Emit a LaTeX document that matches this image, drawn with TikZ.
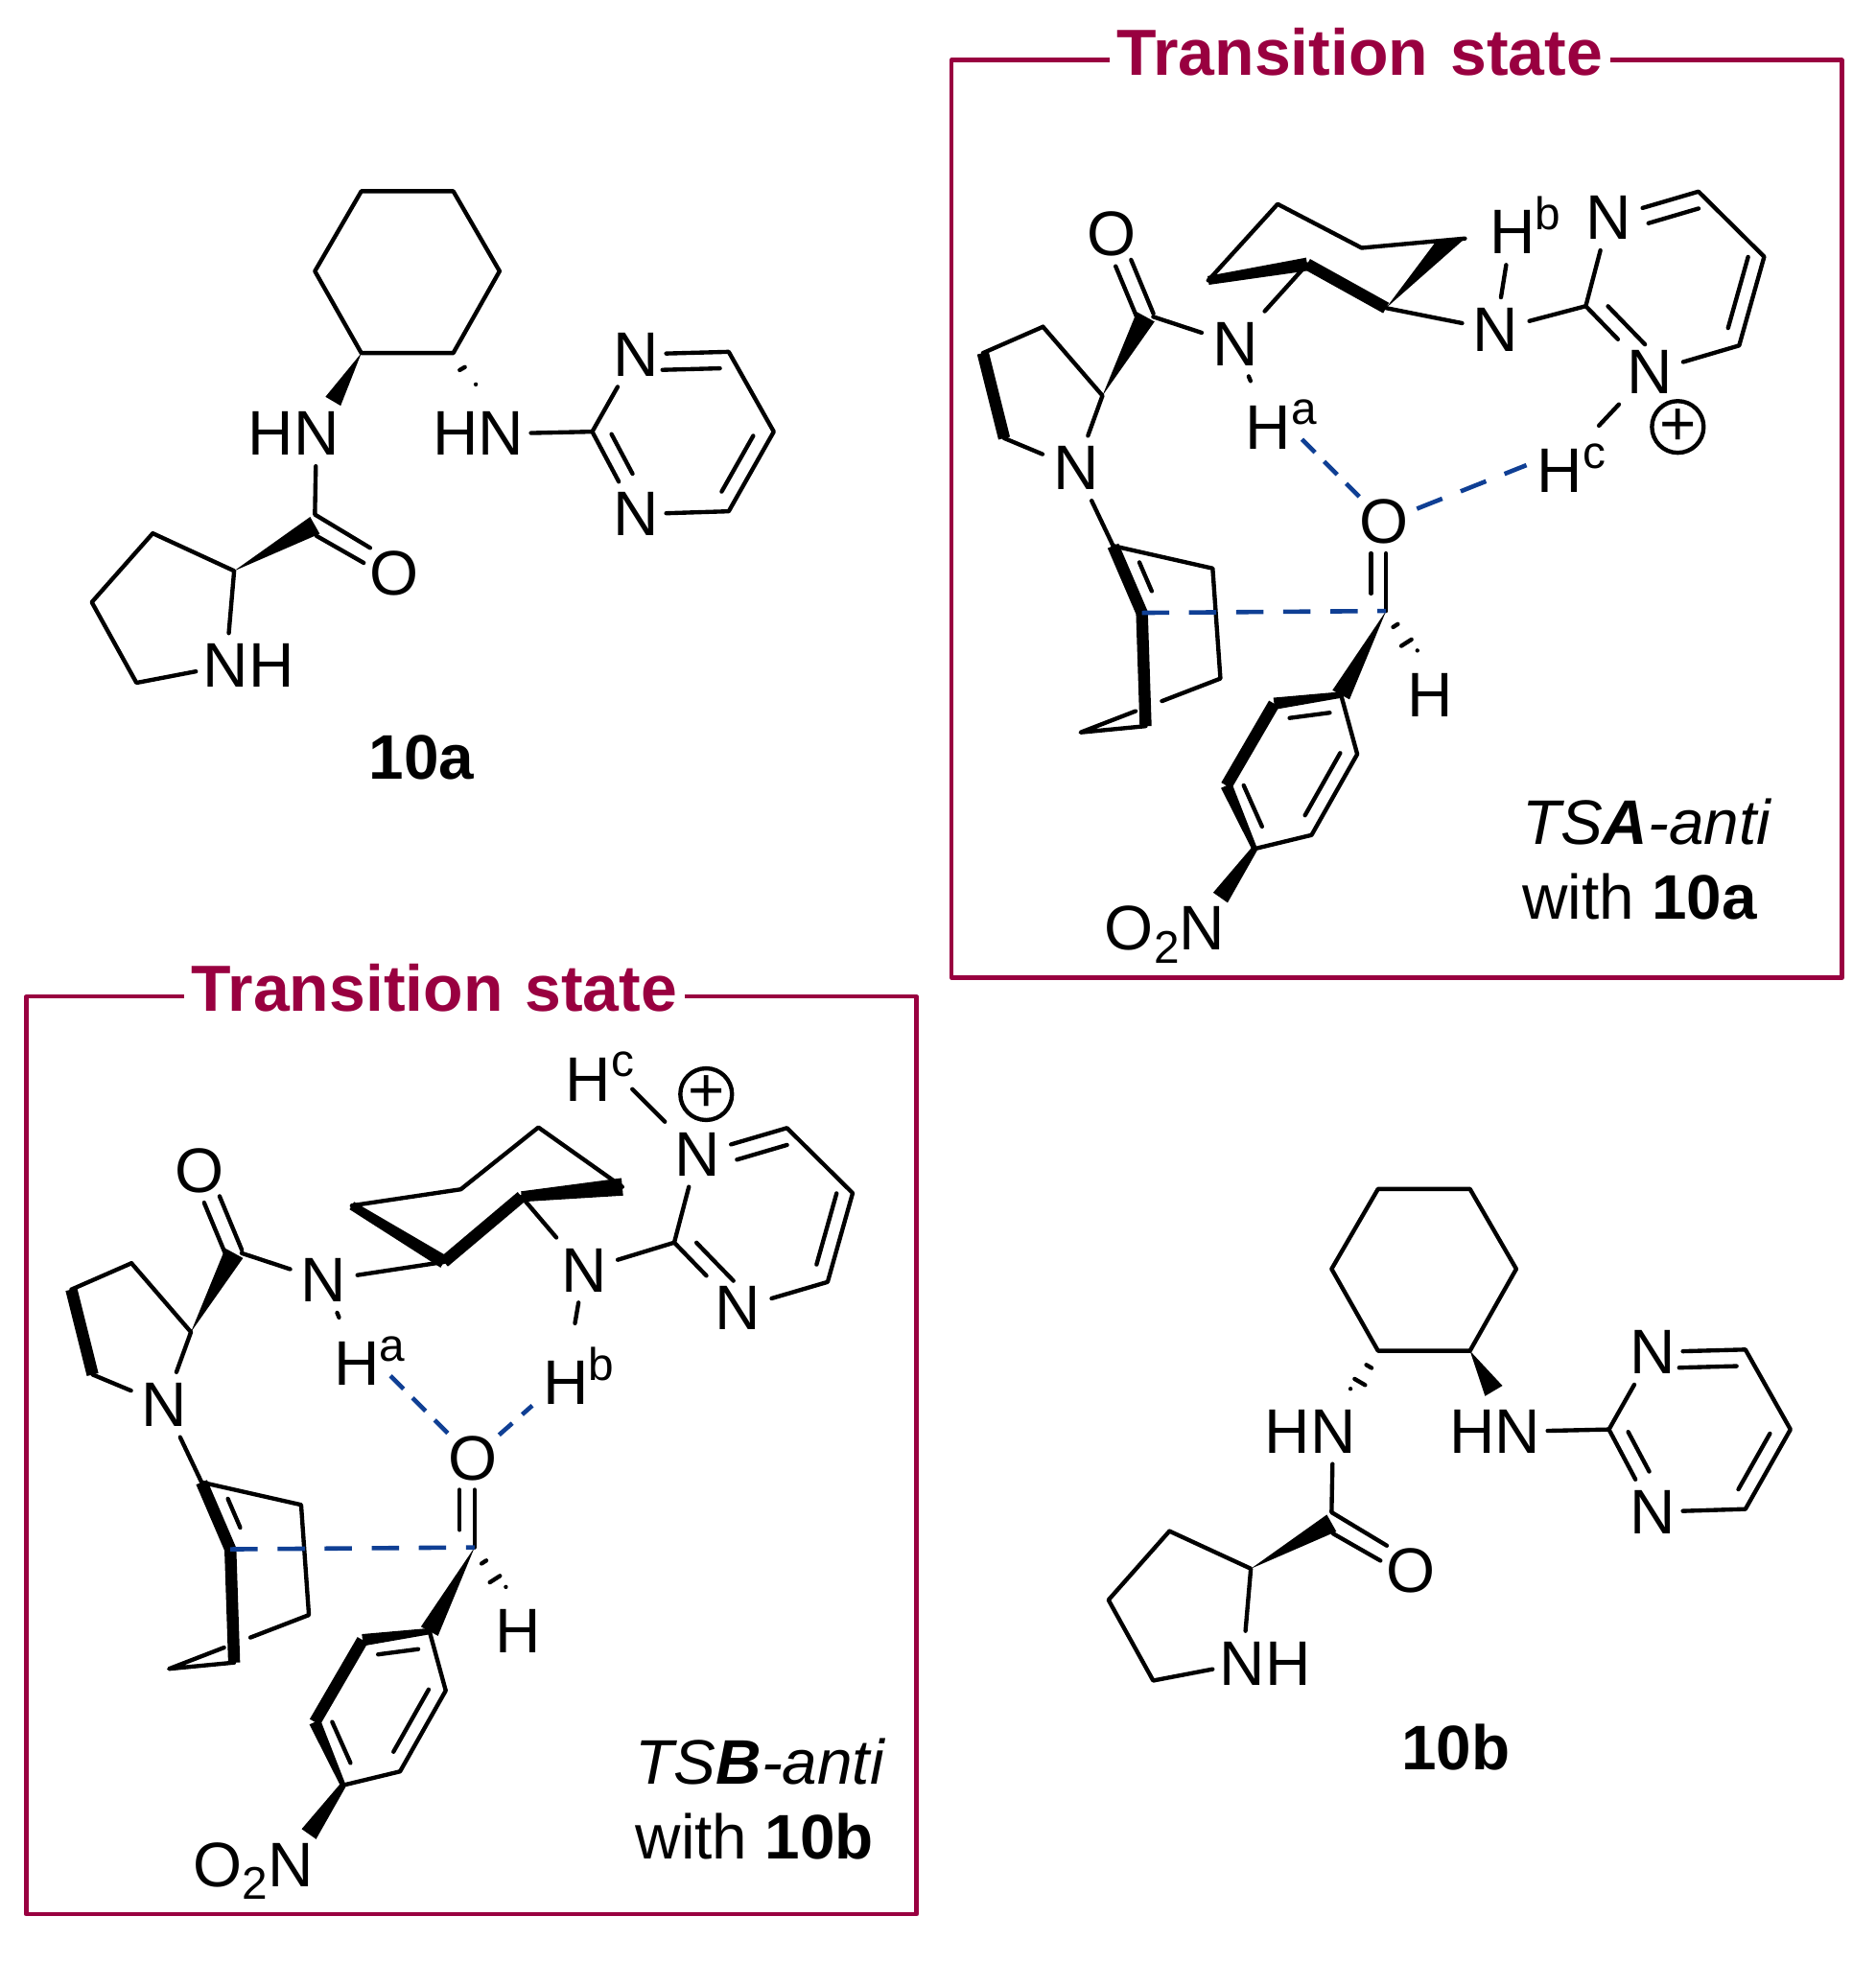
\documentclass[tikz,border=0pt]{standalone}
\usepackage{fontspec}
\setmainfont{Liberation Sans}
\usetikzlibrary{calc}
\definecolor{tsred}{HTML}{990040}
\definecolor{hblue}{HTML}{0F3F94}
\newcommand{\atomsize}{\fontsize{14.3}{17}\selectfont}
\newcommand{\supsize}{\fontsize{10.4}{12}\selectfont}
\newcommand{\hsup}[1]{H\rlap{\raisebox{5.5pt}{\supsize #1}}}
\newcommand{\bondwedge}[3]{\fill[line join=round] (#1) -- ($(#2)!#3!90:(#1)$) -- ($(#2)!#3!-90:(#1)$) -- cycle;}
\newcommand{\bondtaper}[4]{\fill[line join=round] ($(#1)!#3!90:(#2)$) -- ($(#1)!#3!-90:(#2)$) -- ($(#2)!#4!90:(#1)$) -- ($(#2)!#4!-90:(#1)$) -- cycle;}
\newcommand{\bondhash}[4]{\foreach \pos in {#4}{\draw ($(#1)!\pos!(#2)!#3*\pos!90:(#2)$) -- ($(#1)!\pos!(#2)!#3*\pos!-90:(#2)$);}}
\newcommand{\bondinner}[5]{\draw ($(#1)!#4!(#2)!#3!90:(#2)$) -- ($(#1)!#5!(#2)!#3!90:(#2)$);}
\tikzset{
  atom/.style={inner xsep=2pt, inner ysep=2pt, font=\atomsize},
  catatom/.style={inner xsep=1.2pt, inner ysep=2pt, font=\atomsize},
  oxygen/.style={circle, inner sep=0pt, font=\atomsize},
  boldbond/.style={line width=2.7pt, line cap=butt, line join=round},
  hbond/.style={color=hblue, line width=1pt, dash pattern=on 4.2pt off 2.9pt, line cap=butt},
  hlong/.style={color=hblue, line width=1pt, dash pattern=on 6.2pt off 4.5pt, line cap=butt},
  tsbox/.style={color=tsred, line width=1pt, line cap=butt},
  tstitle/.style={fill=white, text=tsred, inner sep=1.7pt, font=\fontsize{14.8}{17}\selectfont\bfseries},
  tsnote/.style={anchor=west, align=left, inner sep=0pt, font=\atomsize},
  cmpd/.style={inner sep=0pt, font=\atomsize\bfseries},
  charge/.style={circle, draw, minimum size=10.8pt, inner sep=0pt},
  tscore/.pic={
    \coordinate (-c2) at (880.5,316);
    \coordinate (-c3) at (833,261);
    \coordinate (-c4) at (785,282);
    \coordinate (-c5) at (802,350);
    \coordinate (-c1) at (921,253);
    \coordinate (-c1m) at (915,253);
    \coordinate (-cho) at (1107,488);
    \coordinate (-o2a) at (1107,442);
    \coordinate (-o2b) at (1095,442);
    \coordinate (-o2c) at (1095,474);
    \coordinate (-ipso) at (1071,555);
    \coordinate (-a2) at (1017.6,562);
    \coordinate (-a3) at (979.5,627.5);
    \coordinate (-a4) at (1002,678);
    \coordinate (-a5) at (1047.5,667);
    \coordinate (-a6) at (1084,602.4);
    \coordinate (-nb) at (974.7,717);
    \coordinate (-e1) at (889,436);
    \coordinate (-e2) at (912,489.5);
    \coordinate (-e3) at (968.5,454);
    \coordinate (-e4) at (974.7,542);
    \coordinate (-e5) at (915,580);
    \coordinate (-e6) at (863,585);
    \coordinate (-e7) at (907,568);
    \coordinate (-e8) at (928,560);
    \coordinate (-hh) at (1132,527);
    \coordinate (-p2) at (1266.5,244.5);
    \coordinate (-p6) at (1356.5,153);
    \coordinate (-p5) at (1409,205);
    \coordinate (-p4) at (1389,276);
    \node[atom] (-n1) at (859.5,374) {N};
    \node[atom] (-o1) at (887.6,187) {O};
    \node[atom] (-n2) at (986.6,274.6) {N};
    \node[atom] (-ha) at (1013,339) {\hsup{a}};
    \node[oxygen] (-o2) at (1105.6,416.7) {O};
    \node[atom] (-h) at (1142,555) {H};
    \node[atom] (-n3) at (960,746.5) {\llap{O\raisebox{-3pt}{\supsize 2}}N};
    \node[atom] (-p1) at (1285,174) {N};
    \node[atom] (-p3) at (1317.4,297) {N};
    \draw (-c3) -- (-c2) -- (-n1) -- (-c5);
    \draw (-c3) -- (-c4);
    \draw[boldbond] (-c4) -- (-c5);
    \bondwedge{-c2}{-c1m}{2.3pt}
    \draw (-c1) -- (-n2);
    \draw[shorten >=2pt] (-n2) -- (-ha);
    \bondinner{-c1m}{-o1}{1.9pt}{0}{0.65}
    \bondinner{-c1m}{-o1}{-1.9pt}{0}{0.65}
    \draw (-n1) -- (-e1) -- (-e3) -- (-e4) -- (-e8);
    \draw[boldbond] (-e1) -- (-e2) -- (-e5);
    \bondinner{-e1}{-e2}{4pt}{0.35}{0.78}
    \draw (-e7) -- (-e6) -- (-e5);
    \draw (-cho) -- (-o2a);
    \draw (-o2c) -- (-o2b);
    \bondwedge{-cho}{-ipso}{2.2pt}
    \bondhash{-cho}{-hh}{2.1pt}{0.3,0.65,1}
    \bondtaper{-ipso}{-a2}{0.7pt}{1.35pt}
    \draw[boldbond] (-a2) -- (-a3);
    \bondtaper{-a4}{-a3}{0.6pt}{1.35pt}
    \draw (-ipso) -- (-a6) -- (-a5) -- (-a4);
    \bondinner{-ipso}{-a2}{3.7pt}{0.2}{0.8}
    \bondinner{-a6}{-a5}{-3.5pt}{0.08}{0.85}
    \bondinner{-a3}{-a4}{3.6pt}{0.1}{0.75}
    \bondtaper{-a4}{-nb}{0.7pt}{2pt}
    \draw (-p1) -- (-p2) -- (-p3) -- (-p4) -- (-p5) -- (-p6) -- (-p1);
    \bondinner{-p1}{-p6}{-3.7pt}{0.39}{0.95}
    \bondinner{-p5}{-p4}{-3.5pt}{0.05}{0.85}
    \bondinner{-p2}{-p3}{3.6pt}{0.17}{0.75}
    \draw[hbond] ([yshift=-3.4pt]-ha.east) -- (-o2);
    \draw[hlong] (-e2) -- (-cho);
  },
  catalyst/.pic={
    \coordinate (-r1) at (288.6,152.7);
    \coordinate (-r2) at (362,152.7);
    \coordinate (-r3) at (399,216.6);
    \coordinate (-r4) at (362,282);
    \coordinate (-r5) at (288.6,282);
    \coordinate (-r6) at (251.5,216.6);
    \coordinate (-c1) at (251.5,411);
    \coordinate (-c1m) at (251.5,419.6);
    \coordinate (-c2) at (187,456);
    \coordinate (-c3) at (122,426);
    \coordinate (-c4) at (73.3,481);
    \coordinate (-c5) at (109,545.4);
    \coordinate (-p2) at (473,344.8);
    \coordinate (-p6) at (582,281);
    \coordinate (-p5) at (618,344.8);
    \coordinate (-p4) at (582,408.4);
    \coordinate (-d1) at (295.6,437.6);
    \coordinate (-d2) at (252.7,428);
    \coordinate (-d3) at (290.5,449.6);
    \node[catatom] (-n1) at (252.7,346.4) {\llap{H}N};
    \node[catatom] (-n2) at (400,346.4) {\llap{H}N};
    \node[catatom] (-n3) at (180.5,531.7) {N\rlap{H}};
    \node[catatom] (-o) at (315,457.7) {O};
    \node[catatom] (-p1) at (508,283) {N};
    \node[catatom] (-p3) at (508,410.7) {N};
    \draw (-r1) -- (-r2) -- (-r3) -- (-r4) -- (-r5) -- (-r6) -- cycle;
    \draw (-n1) -- (-c1) -- (-d1);
    \draw (-d2) -- (-d3);
    \bondwedge{-c2}{-c1m}{2.2pt}
    \draw (-c3) -- (-c2) -- (-n3) -- (-c5) -- (-c4) -- (-c3);
    \draw (-n2) -- (-p2) -- (-p3) -- (-p4) -- (-p5) -- (-p6) -- (-p1) -- (-p2);
    \bondinner{-p1}{-p6}{-3.7pt}{0.28}{0.9}
    \bondinner{-p5}{-p4}{-3.6pt}{0.15}{0.85}
    \bondinner{-p2}{-p3}{3.6pt}{0.12}{0.6}
  }
}
\begin{document}
\begin{tikzpicture}[x=0.01cm, y=-0.01cm, line width=0.95pt, line cap=round, line join=round]
    \useasboundingbox (0,0) rectangle (1498,1568);
    \draw[tsbox] (760,48) rectangle (1471,781);
    \draw[tsbox] (21,796) rectangle (732,1529);
    \node[tstitle] (titlea) at (1086,41.5) {Transition\hspace{5pt}state};
    \node[tstitle] (titleb) at (347,789.5) {Transition\hspace{5pt}state};
    \pic (cata) at (0,0) {catalyst};
    \coordinate (catae) at (266,320.5);
    \coordinate (catah) at (380,313);
    \bondwedge{cata-r5}{catae}{2pt}
    \bondhash{cata-r4}{catah}{1.7pt}{0.4,1}
    \node[cmpd] (labela) at (336.5,605) {10a};
    \pic (catb) at (812,797) {catalyst};
    \coordinate (catbh) at (1078.6,1116.7);
    \coordinate (catbe) at (1193,1111);
    \bondhash{catb-r5}{catbh}{2.1pt}{0.33,0.66,1}
    \bondwedge{catb-r4}{catbe}{2.3pt}
    \node[cmpd] (labelb) at (1162.5,1396) {10b};
    \pic (a) at (0,0) {tscore};
    \coordinate (a-r1) at (965,224);
    \coordinate (a-r2) at (1044,211);
    \coordinate (a-r3) at (1107,246);
    \coordinate (a-r4) at (1170,190.5);
    \coordinate (a-r4a) at (1146,194);
    \coordinate (a-r5) at (1087.5,198);
    \coordinate (a-r6) at (1020.4,163);
    \coordinate (a-hce) at (1277,340);
    \node[atom] (a-n4) at (1194.6,263.5) {N};
    \node[atom] (a-hb) at (1208,180) {\hsup{b}};
    \node[atom] (a-hc) at (1246,374) {\hsup{c}};
    \node[charge] (a-plus) at (1340,341) {\atomsize +};
    \bondtaper{a-r1}{a-r2}{1pt}{1.5pt}
    \draw[boldbond] (a-r2) -- (a-r3);
    \fill (a-r3) -- (a-r4a) -- (a-r4) -- cycle;
    \draw (a-r1) -- (a-r6) -- (a-r5) -- (a-r4);
    \draw (a-n2) -- (a-r2);
    \draw (a-r3) -- (a-n4) -- (a-p2);
    \draw (a-n4) -- (a-hb);
    \draw (a-p3) -- (a-hce);
    \draw[hlong] (a-o2) -- ([yshift=0.7pt]a-hc.west);
    \node[tsnote] (notea) at (1214,686.5) {\textit{TS\textbf{A}-anti}\\with \textbf{10a}};
    \pic (b) at (-728,748) {tscore};
    \coordinate (b-r1) at (281,963);
    \coordinate (b-r2) at (354.6,1008);
    \coordinate (b-r3) at (416.5,955.8);
    \coordinate (b-r4) at (497,948);
    \coordinate (b-r5) at (430,900.5);
    \coordinate (b-r6) at (368,950);
    \coordinate (b-hce) at (505,870);
    \node[atom] (b-n4) at (466.5,1014.5) {N};
    \node[atom] (b-hb) at (452,1099) {\hsup{b}};
    \node[atom] (b-hc) at (470,860) {\hsup{c}};
    \node[charge] (b-plus) at (564,874) {\atomsize +};
    \bondtaper{b-r1}{b-r2}{1pt}{1.5pt}
    \draw[boldbond] (b-r2) -- (b-r3);
    \bondtaper{b-r3}{b-r4}{1.2pt}{2pt}
    \draw (b-r1) -- (b-r6) -- (b-r5) -- (b-r4);
    \draw (b-n2) -- (b-r2);
    \draw (b-r3) -- (b-n4) -- (b-p2);
    \draw[shorten >=3pt] (b-n4) -- (b-hb);
    \draw (b-p1) -- (b-hce);
    \draw[hbond, dash pattern=on 4pt off 3pt] (b-o2) -- (b-hb);
    \node[tsnote] (noteb) at (506,1437) {\textit{TS\textbf{B}-anti}\\with \textbf{10b}};
\end{tikzpicture}
\end{document}
